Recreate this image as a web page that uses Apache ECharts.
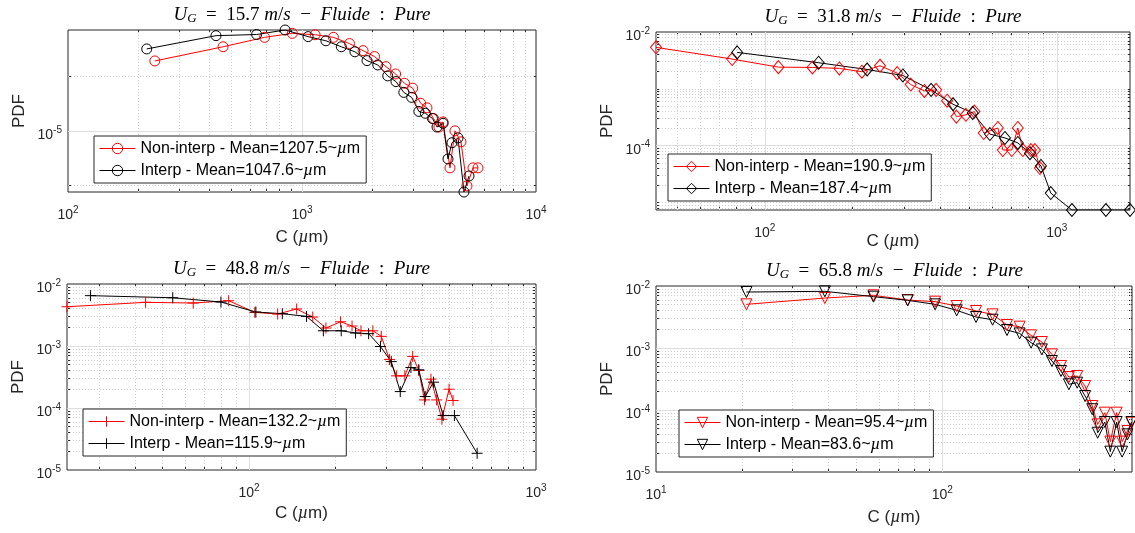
<!DOCTYPE html>
<html><head><meta charset="utf-8">
<script src="https://cdn.jsdelivr.net/npm/echarts/dist/echarts.min.js"></script>
<style>html,body{margin:0;padding:0;background:#fff}#c{width:1135px;height:533px}</style>
</head><body><div id="c"></div><script>
// ---------------- data ----------------
const speeds = ['15.7', '31.8', '48.8', '65.8'];
const meanNon = ['1207.5', '190.9', '132.2', '95.4'];
const meanInt = ['1047.6', '187.4', '115.9', '83.6'];

const p1NonC = [235, 460, 692, 909, 1138, 1362, 1596, 1824, 2042, 2285, 2512, 2742, 2972, 3213, 3420, 3648, 3846, 4006, 4290, 4505, 4779, 5070, 5380, 5650];
const p1NonPdf = [2.43e-5, 2.91e-5, 3.28e-5, 3.45e-5, 3.39e-5, 3.28e-5, 3.03e-5, 2.77e-5, 2.57e-5, 2.26e-5, 2.06e-5, 1.83e-5, 1.72e-5, 1.42e-5, 1.34e-5, 1.17e-5, 1.05e-5, 1.12e-5, 6.25e-6, 1.0e-5, 8.7e-6, 4.97e-6, 6.25e-6, 6.25e-6];
const p1IntC = [217, 429, 640, 847, 1062, 1265, 1472, 1683, 1896, 2108, 2325, 2521, 2723, 2942, 3158, 3365, 3610, 3776, 4008, 4206, 4375, 4642, 4923, 5173];
const p1IntPdf = [2.83e-5, 3.35e-5, 3.4e-5, 3.6e-5, 3.31e-5, 3.14e-5, 2.91e-5, 2.73e-5, 2.44e-5, 2.31e-5, 2.01e-5, 1.87e-5, 1.63e-5, 1.53e-5, 1.28e-5, 1.25e-5, 1.17e-5, 1.05e-5, 1.1e-5, 7.0e-6, 8.6e-6, 9.15e-6, 4.6e-6, 5.64e-6];

const p2NonC = [42.4, 77.3, 111.3, 145.6, 180, 215, 248, 284, 316, 352, 386, 421, 453, 488, 522, 562, 628, 653, 701, 735, 765, 815, 841, 875];
const p2NonPdf = [5.37e-3, 3.34e-3, 2.41e-3, 2.38e-3, 2.29e-3, 2.0e-3, 2.55e-3, 1.89e-3, 1.19e-3, 9.2e-4, 9.6e-4, 6.2e-4, 3.25e-4, 3.5e-4, 3.98e-4, 1.67e-4, 2.05e-4, 8.4e-5, 8.4e-5, 2.05e-4, 8.4e-5, 8.4e-5, 8.4e-5, 4.05e-5];
const p2IntC = [80.4, 152.8, 224, 297, 371, 441, 515, 590, 664, 735, 809, 882, 953, 1126, 1472, 1780];
const p2IntPdf = [4.38e-3, 2.88e-3, 2.19e-3, 1.72e-3, 9.6e-4, 5.36e-4, 3.77e-4, 1.6e-4, 1.37e-4, 1.12e-4, 7.4e-5, 4.4e-5, 1.47e-5, 7.4e-6, 7.4e-6, 7.4e-6];

const p3NonC = [23.2, 43.6, 63.9, 84.9, 104.7, 125.8, 146.5, 166.7, 185.3, 208.4, 228.5, 245.5, 270, 289, 308.6, 326.8, 349, 371.7, 390.5, 408.6, 430.4, 450.6, 470, 497.7, 514];
const p3NonPdf = [4.3e-3, 5.06e-3, 4.93e-3, 5.38e-3, 3.49e-3, 3.28e-3, 3.95e-3, 2.93e-3, 1.95e-3, 2.46e-3, 2.1e-3, 1.76e-3, 1.76e-3, 1.43e-3, 6.07e-4, 3.3e-4, 3.3e-4, 6.8e-4, 4.03e-4, 1.35e-4, 2.92e-4, 1.35e-4, 6.6e-5, 2.01e-4, 1.32e-4];
const p3IntC = [28, 54.2, 79.8, 105.6, 130.6, 158.6, 181.5, 209.5, 235, 261, 287, 313, 336.5, 366.5, 390.5, 411, 439.5, 474.6, 519.6, 623.5];
const p3IntPdf = [6.49e-3, 6.0e-3, 5.12e-3, 3.53e-3, 3.32e-3, 3.0e-3, 1.76e-3, 1.76e-3, 1.62e-3, 1.58e-3, 9.8e-4, 5.6e-4, 1.84e-4, 4.5e-4, 4.13e-4, 1.53e-4, 2.61e-4, 7.55e-5, 7.55e-5, 1.86e-5];

const p4NonC = [20.7, 38.9, 57.5, 75.7, 94.4, 112.3, 131.2, 149.9, 168.3, 186.3, 204.3, 222.8, 241.5, 259.9, 276.9, 296, 315.5, 334.2, 349, 369.8, 386.4, 406.6, 424.8, 443.6, 458];
const p4NonPdf = [5.06e-3, 6.4e-3, 7.07e-3, 5.94e-3, 5.59e-3, 4.76e-3, 3.95e-3, 3.49e-3, 2.35e-3, 2.21e-3, 1.6e-3, 1.25e-3, 7.9e-4, 5.13e-4, 3.4e-4, 3.53e-4, 2.44e-4, 1.16e-4, 5.87e-5, 9.06e-5, 3.09e-5, 9.06e-5, 3.09e-5, 4.58e-5, 6.25e-5];
const p4IntC = [20.7, 38.9, 57.5, 75.7, 94.4, 112.3, 131.2, 149.9, 168.3, 186.3, 204.3, 222.8, 241.5, 259.9, 276.9, 296, 315.5, 334.2, 349, 369.8, 386.4, 406.6, 424.8, 443.6, 458];
const p4IntPdf = [8.0e-3, 8.2e-3, 6.73e-3, 5.87e-3, 5.06e-3, 4.05e-3, 3.16e-3, 2.86e-3, 1.95e-3, 1.72e-3, 1.22e-3, 9.5e-4, 6.17e-4, 4.26e-4, 2.6e-4, 2.76e-4, 1.68e-4, 1.03e-4, 4.3e-5, 6.4e-5, 2.13e-5, 6.4e-5, 2.13e-5, 4.05e-5, 6.4e-5];

// axis limits and labelled decades (tick labels 10^n)
const xLim = [[100, 10000], [42.4, 1780], [23.2, 1000], [10, 460]];
const yLim = [[4.6e-6, 3.6e-5], [7.4e-6, 1e-2], [1e-5, 1e-2], [1e-5, 1e-2]];
const xLabelExp = [[2, 3, 4], [2, 3], [2, 3], [1, 2]];
const yLabelExp = [[-5], [-4, -2], [-5, -4, -3, -2], [-5, -4, -3, -2]];
const yMajorTicks = [[1e-5], [1e-4], [1e-3, 1e-4], [1e-3, 1e-4]];
const yMinorTicksSpecial = [[5e-6, 2e-5], null, null, null];
const yMinorExtra = [[], [1e-3, 1e-5], [], []];

// ---------------- layout / style ----------------
const grids = [
  {left: 68, top: 30, width: 468, height: 162},
  {left: 656, top: 32, width: 474, height: 178},
  {left: 67, top: 284, width: 469, height: 186},
  {left: 656, top: 286, width: 477, height: 186}
];
const legendPos = [[94, 136], [668, 154], [83, 409], [679, 410]];
const xNameGap = [36, 22, 34, 36];
const RED = '#ff0000', BLK = '#000000', AX = '#262626';
const symbols = ['circle', 'diamond', 'path://M0,-5L0,5M-5,0L5,0', 'path://M-5,-4.3L5,-4.3L0,4.3Z'];
const symSizes = [10, [11, 13], 11, 11];

const nonC = [p1NonC, p2NonC, p3NonC, p4NonC], nonP = [p1NonPdf, p2NonPdf, p3NonPdf, p4NonPdf];
const intC = [p1IntC, p2IntC, p3IntC, p4IntC], intP = [p1IntPdf, p2IntPdf, p3IntPdf, p4IntPdf];

function zip(a, b) { return a.map((v, i) => [v, b[i]]); }
function decades(lo, hi) {
  const out = [];
  for (let e = Math.floor(Math.log10(lo)) - 1; e <= Math.ceil(Math.log10(hi)) + 1; e++) {
    const v = Math.pow(10, e);
    if (v > lo * 1.001 && v < hi * 0.999) out.push(v);
  }
  return out;
}
function minors(lo, hi) {
  const out = [];
  for (let e = Math.floor(Math.log10(lo)) - 1; e <= Math.ceil(Math.log10(hi)); e++) {
    for (let k = 2; k <= 9; k++) {
      const v = k * Math.pow(10, e);
      if (v > lo * 1.001 && v < hi * 0.999) out.push(v);
    }
  }
  return out;
}
function decLabel(list) {
  return function (v) {
    const e = Math.log10(v), r = Math.round(e);
    if (Math.abs(e - r) > 1e-6 || list.indexOf(r) < 0) return '';
    return '{b|10}{s|' + r + '}';
  };
}
const labRich = {
  b: {fontSize: 14, lineHeight: 20, verticalAlign: 'middle', fontFamily: 'Liberation Sans', color: AX},
  s: {fontSize: 10, lineHeight: 10, verticalAlign: 'top', fontFamily: 'Liberation Sans', color: AX}
};
const majorStyle = {color: '#dedede', width: 1, type: 'solid'};
const minorStyle = {color: '#cfcfcf', width: 1, type: [1, 2]};

const option = {
  animation: false,
  backgroundColor: '#fff',
  grid: [], xAxis: [], yAxis: [], series: [], legend: [], title: []
};
const extraX = [], extraY = [];

function tickAxis(i, lim, pos, values, len) {
  return {
    type: 'log', logBase: 10, gridIndex: i, position: pos, min: lim[0], max: lim[1],
    axisLine: {show: false}, axisLabel: {show: false}, splitLine: {show: false},
    axisTick: {show: true, inside: true, length: len, customValues: values, lineStyle: {color: AX, width: 1}}
  };
}

for (let i = 0; i < 4; i++) {
  const g = grids[i];
  option.grid.push(Object.assign({show: true, borderColor: AX, borderWidth: 1, backgroundColor: '#fff', containLabel: false}, g));
  option.xAxis.push({
    type: 'log', logBase: 10, gridIndex: i, position: 'bottom', min: xLim[i][0], max: xLim[i][1],
    axisLine: {show: false}, axisTick: {show: false}, splitLine: {show: false}, minorSplitLine: {show: false},
    axisLabel: {formatter: decLabel(xLabelExp[i]), rich: labRich, margin: 5, padding: [8, 0, 0, 0], showMinLabel: true, showMaxLabel: true},
    name: 'C ({mu|\u00b5}m)', nameLocation: 'middle', nameGap: xNameGap[i], nameMoveOverlap: false,
    nameTextStyle: {fontSize: 17, color: AX, fontFamily: 'Liberation Sans',
      rich: {mu: {fontSize: 18, fontFamily: 'Liberation Serif', fontStyle: 'italic', color: AX}}}
  });
  option.yAxis.push({
    type: 'log', logBase: 10, gridIndex: i, position: 'left', min: yLim[i][0], max: yLim[i][1],
    axisLine: {show: false}, axisTick: {show: false}, splitLine: {show: false}, minorSplitLine: {show: false},
    axisLabel: {formatter: decLabel(yLabelExp[i]), rich: labRich, margin: 6, padding: [8, 0, 0, 0], showMinLabel: true, showMaxLabel: true},
    name: 'PDF', nameLocation: 'middle', nameGap: 40, nameRotate: 90, nameMoveOverlap: false,
    nameTextStyle: {fontSize: 17, color: AX, fontFamily: 'Liberation Sans'}
  });

  const xMaj = decades(xLim[i][0], xLim[i][1]);
  const xMin = minors(xLim[i][0], xLim[i][1]);
  const yMaj = yMajorTicks[i];
  const yMin = yMinorTicksSpecial[i] ? yMinorTicksSpecial[i] : minors(yLim[i][0], yLim[i][1]).concat(yMinorExtra[i]);

  // inside tick marks on all four sides
  ['bottom', 'top'].forEach(p => {
    extraX.push(tickAxis(i, xLim[i], p, xMaj, 5));
    extraX.push(tickAxis(i, xLim[i], p, xMin, 3));
  });
  ['left', 'right'].forEach(p => {
    extraY.push(tickAxis(i, yLim[i], p, yMaj, 5));
    extraY.push(tickAxis(i, yLim[i], p, yMin, 3));
  });

  // grid lines through the axes' own scales
  const gl = [];
  xMaj.forEach(v => gl.push({xAxis: v, lineStyle: majorStyle}));
  xMin.forEach(v => gl.push({xAxis: v, lineStyle: minorStyle}));
  yMaj.forEach(v => gl.push({yAxis: v, lineStyle: majorStyle}));
  yMin.forEach(v => gl.push({yAxis: v, lineStyle: minorStyle}));
  option.series.push({
    type: 'line', name: '_grid' + i, xAxisIndex: i, yAxisIndex: i, data: [], silent: true, z: 1,
    markLine: {silent: true, symbol: ['none', 'none'], label: {show: false}, z: 1, animation: false,
      precision: 14, emphasis: {disabled: true}, data: gl}
  });

  const nameN = 'Non-interp - Mean=' + meanNon[i] + '~\u00b5m';
  const nameI = 'Interp - Mean=' + meanInt[i] + '~\u00b5m';
  [[nameN, nonC[i], nonP[i], RED], [nameI, intC[i], intP[i], BLK]].forEach(([nm, cx, py, col]) => {
    option.series.push({
      type: 'line', name: nm, xAxisIndex: i, yAxisIndex: i, z: 3,
      data: zip(cx, py), symbol: symbols[i], symbolSize: symSizes[i], showAllSymbol: true,
      itemStyle: {color: 'transparent', borderColor: col, borderWidth: 1},
      lineStyle: {color: col, width: 1},
      emphasis: {disabled: true}
    });
  });

  option.legend.push({
    data: [nameN, nameI].map((nm, k) => ({name: nm,
      itemStyle: {color: 'transparent', borderColor: k ? BLK : RED, borderWidth: 1},
      lineStyle: {color: k ? BLK : RED, width: 1}})),
    left: legendPos[i][0], top: legendPos[i][1], orient: 'vertical',
    itemWidth: 36, itemHeight: 13, itemGap: 5, padding: [4, 6, 4, 5],
    backgroundColor: '#fff', borderColor: AX, borderWidth: 1, borderRadius: 0,
    selectedMode: false, z: 10,
    formatter: n => n.replace('\u00b5', '{mu|\u00b5}'),
    textStyle: {fontSize: 16, color: '#000', fontFamily: 'Liberation Sans',
      rich: {mu: {fontSize: 17, fontFamily: 'Liberation Serif', fontStyle: 'italic', color: '#000'}}}
  });

  const tf = {fontFamily: 'Liberation Serif', fontWeight: 'normal', fontSize: 19, color: '#000', verticalAlign: 'middle', lineHeight: 22};
  option.title.push({
    text: '{i|U}{sub|G}{n|  =  ' + speeds[i] + ' }{i|m}{n|/}{i|s}{n|  \u2212  }{i|Fluide}{n|  :  }{i|Pure}',
    left: g.left + g.width / 2, top: g.top - 26, textAlign: 'center', padding: 0,
    textStyle: {
      fontWeight: 'normal',
      rich: {
        i: Object.assign({}, tf, {fontStyle: 'italic'}),
        n: Object.assign({}, tf),
        sub: Object.assign({}, tf, {fontStyle: 'italic', fontSize: 13, lineHeight: 13, padding: [8, 0, 0, 0]})
      }
    }
  });
}
option.xAxis = option.xAxis.concat(extraX);
option.yAxis = option.yAxis.concat(extraY);

const chart = echarts.init(document.getElementById('c'), null, {renderer: 'canvas'});
chart.setOption(option);
</script></body></html>
